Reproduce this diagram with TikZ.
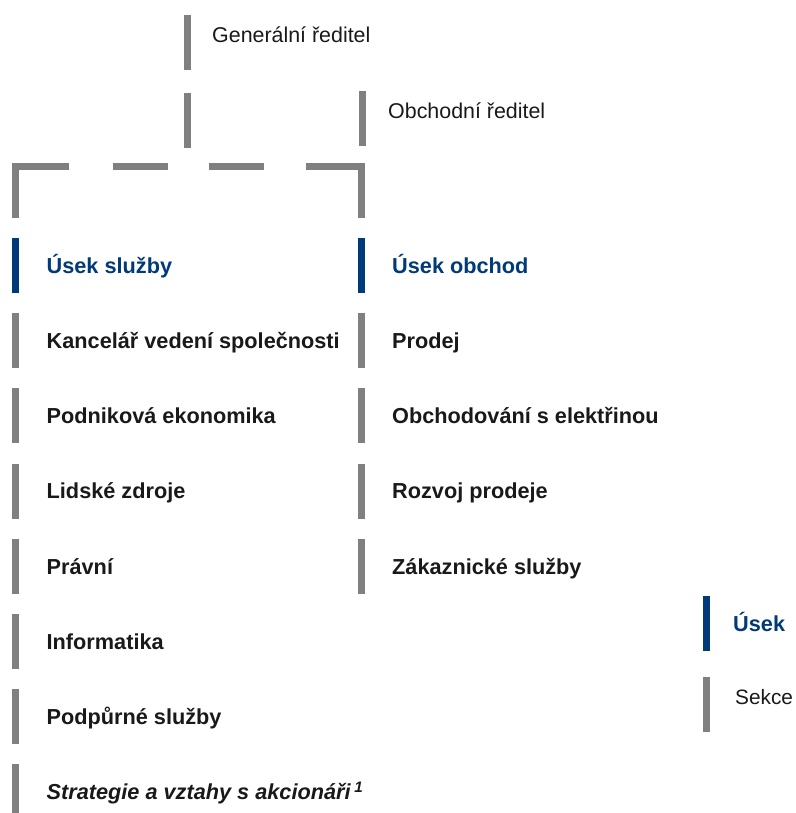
\documentclass[tikz,border=0pt]{standalone}
\usepackage{fontspec}
\setmainfont{Liberation Sans}
\usepackage{tikz}
\usetikzlibrary{positioning}
\definecolor{usekBlue}{RGB}{0, 58, 120}
\definecolor{pruhGray}{RGB}{128, 128, 128}
\definecolor{textDark}{RGB}{25, 25, 25}

\begin{document}
\begin{tikzpicture}[
        x=1pt, y=-1pt,
        node distance=20.2pt,
        pruh/.style={
            rectangle,
            fill=pruhGray,
            minimum width=7pt,
            minimum height=55pt,
            inner sep=0pt,
            outer sep=0pt
        },
        pruhUsek/.style={
            pruh,
            fill=usekBlue
        },
        oddeleni/.style={
            inner sep=0pt,
            text height=15.5pt,
            text depth=0pt,
            text=textDark,
            font=\fontsize{21.7}{26}\selectfont\bfseries
        },
        usek/.style={
            oddeleni,
            text=usekBlue
        },
        funkce/.style={
            inner sep=0pt,
            text height=15.4pt,
            text depth=0pt,
            yshift=8pt,
            text=textDark,
            font=\fontsize{21.4}{26}\selectfont
        },
        spojnice/.style={
            draw=pruhGray,
            line width=7pt,
            line cap=butt,
            line join=miter
        }
    ]

        \useasboundingbox (0,0) rectangle (795,813);

        \node[pruh] (grBar) at (187.5,42.5) {};
        \node[funkce, right=21pt of grBar] (gr) {Generální ředitel};
        \node[pruh] (orBar) at (362.5,118.5) {};
        \node[funkce, right=22pt of orBar] (or) {Obchodní ředitel};

        \node[pruhUsek] (sluzbyBar) at (15.5,265.5) {};
        \node[usek, right=27.5pt of sluzbyBar] (sluzby) {Úsek služby};
        \node[pruh, below=of sluzbyBar] (kancBar) {};
        \node[oddeleni, right=27.5pt of kancBar] (kanc) {Kancelář vedení společnosti};
        \node[pruh, below=of kancBar] (ekonBar) {};
        \node[oddeleni, right=27.5pt of ekonBar] (ekon) {Podniková ekonomika};
        \node[pruh, below=of ekonBar] (lzBar) {};
        \node[oddeleni, right=27.5pt of lzBar] (lz) {Lidské zdroje};
        \node[pruh, below=of lzBar] (pravBar) {};
        \node[oddeleni, right=27.5pt of pravBar] (prav) {Právní};
        \node[pruh, below=of pravBar] (infoBar) {};
        \node[oddeleni, right=27.5pt of infoBar] (info) {Informatika};
        \node[pruh, below=of infoBar] (podpBar) {};
        \node[oddeleni, right=27.5pt of podpBar] (podp) {Podpůrné služby};
        \node[pruh, below=of podpBar] (stratBar) {};
        \node[oddeleni, right=27.5pt of stratBar] (strat) {\itshape Strategie a vztahy s akcionáři\,\textsuperscript{1}};

        \node[pruhUsek] (obchodBar) at (361.5,265.5) {};
        \node[usek, right=27pt of obchodBar] (obchod) {Úsek obchod};
        \node[pruh, below=of obchodBar] (prodejBar) {};
        \node[oddeleni, right=27pt of prodejBar] (prodej) {Prodej};
        \node[pruh, below=of prodejBar] (elektBar) {};
        \node[oddeleni, right=27pt of elektBar] (elekt) {Obchodování s elektřinou};
        \node[pruh, below=of elektBar] (rozvBar) {};
        \node[oddeleni, right=27pt of rozvBar] (rozv) {Rozvoj prodeje};
        \node[pruh, below=of rozvBar] (zakBar) {};
        \node[oddeleni, right=27pt of zakBar] (zak) {Zákaznické služby};

        % legenda
        \node[pruhUsek] (legUsekBar) at (706.5,623.5) {};
        \node[usek, right=23pt of legUsekBar] (legUsek) {Úsek};
        \node[pruh] (legSekceBar) at (706.5,704.5) {};
        \node[funkce, right=25pt of legSekceBar, font=\fontsize{20.8}{26}\selectfont] (legSekce) {Sekce};

        \coordinate (hrana) at (0,166.5);
        \draw[spojnice] ([yshift=-23pt]grBar.south) -- ([yshift=-78pt]grBar.south);
        \draw[spojnice, dash pattern=on 105pt off 44pt on 55pt off 41pt on 55pt off 42pt on 107pt]
            ([yshift=20pt]sluzbyBar.north) |- (hrana -| obchodBar) -- ([yshift=20pt]obchodBar.north);

    \end{tikzpicture}
\end{document}
